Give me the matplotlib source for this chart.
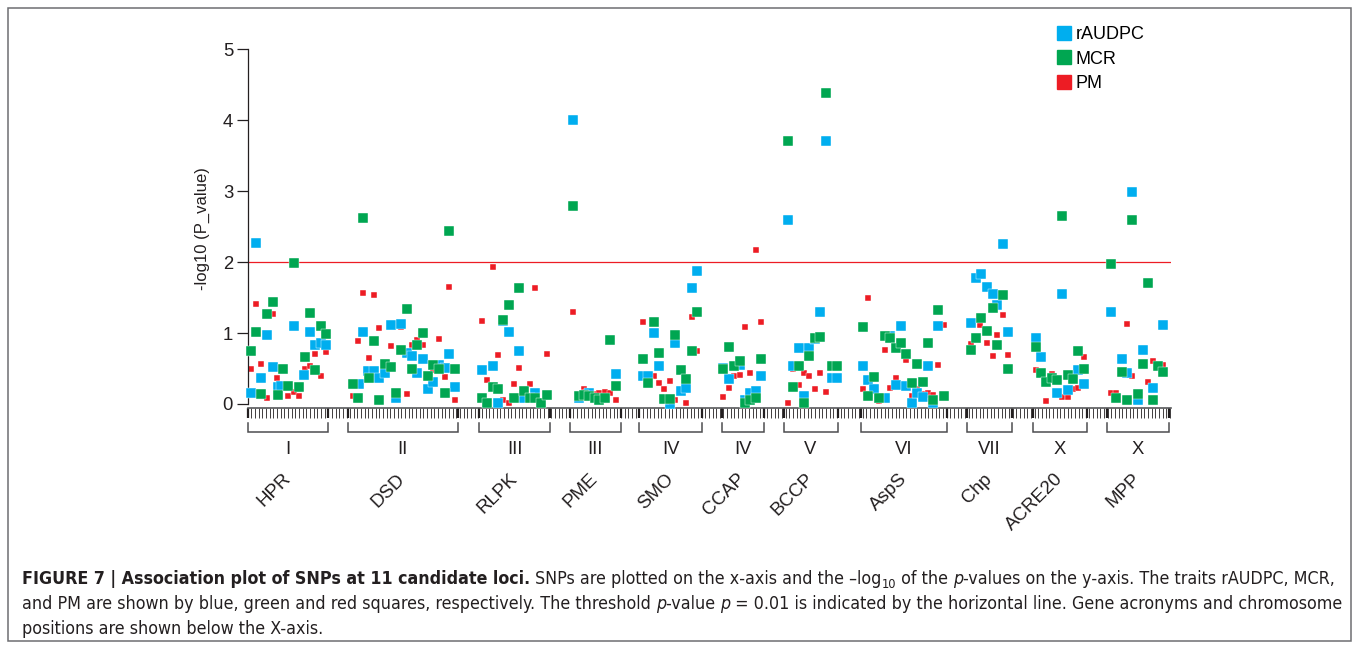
import numpy as np
import matplotlib
matplotlib.use("Agg")
import matplotlib.pyplot as plt
from matplotlib.lines import Line2D
from matplotlib.patches import Rectangle
from matplotlib.transforms import IdentityTransform
from matplotlib import font_manager

plt.rcParams['font.family'] = ['Liberation Sans', 'DejaVu Sans']

# loci along the x axis (positions in SNP ticks)
loci = ['HPR', 'DSD', 'RLPK', 'PME', 'SMO', 'CCAP', 'BCCP', 'AspS', 'Chp', 'ACRE20', 'MPP']
chroms = ['I', 'II', 'III', 'III', 'IV', 'IV', 'V', 'VI', 'VII', 'X', 'X']
loc_start = [0, 27.3, 63.1, 88.1, 107.0, 129.5, 146.4, 167.6, 196.4, 214.6, 234.9]
loc_end = [22.0, 57.4, 82.7, 101.9, 124.2, 141.1, 161.2, 191.1, 208.8, 229.4, 251.6]
n_ticks = 252

# (SNP position, -log10 p) per trait
raudpc = [
    (0.8, 0.16), (2.3, 2.27), (3.7, 0.36), (5.4, 0.97), (6.8, 0.52), (8.4, 0.24), (9.0, 0.25), (12.6, 1.10),
    (15.5, 0.41), (17.0, 1.01), (18.4, 0.83), (19.9, 0.86), (21.4, 0.83),  # HPR
    (30.5, 0.28), (31.6, 1.01), (33.0, 0.46), (34.6, 0.47), (36.0, 0.36), (37.5, 0.43), (39.1, 1.12), (40.5, 0.08),
    (41.9, 1.13), (43.4, 0.72), (44.8, 0.67), (46.3, 0.43), (47.8, 0.64), (49.2, 0.21), (50.7, 0.31), (52.4, 0.55),
    (53.8, 0.51), (55.1, 0.70), (56.6, 0.24),  # DSD
    (63.9, 0.48), (66.9, 0.53), (68.3, 0.01), (69.8, 1.17), (71.3, 1.02), (74.2, 0.75), (75.5, 0.08), (78.6, 0.15),
    (81.7, 0.12),  # RLPK
    (89.0, 4.00), (90.6, 0.08), (91.9, 0.12), (93.3, 0.16), (100.6, 0.42),  # PME
    (107.9, 0.39), (109.5, 0.39), (111.0, 1.00), (112.4, 0.54), (115.4, 0.0), (116.8, 0.86), (118.3, 0.19),
    (119.8, 0.23), (121.3, 1.63), (122.7, 1.88),  # SMO
    (130.0, 0.51), (131.6, 0.35), (134.4, 0.55), (135.9, 0.06), (137.3, 0.16), (138.9, 0.19), (140.3, 0.39),  # CCAP
    (147.7, 2.60), (149.1, 0.54), (150.6, 0.79), (152.1, 0.11), (153.4, 0.79), (155.0, 0.92), (156.4, 1.30),
    (158.0, 3.71), (159.6, 0.36), (160.9, 0.36),  # BCCP
    (168.2, 0.54), (169.5, 0.34), (171.0, 0.21), (174.0, 0.08), (175.4, 0.96), (177.0, 0.27), (178.4, 1.10),
    (179.8, 0.25), (181.4, 0.01), (182.9, 0.16), (184.4, 0.10), (185.9, 0.54), (187.3, 0.01), (188.7, 1.10),  # AspS
    (197.5, 1.14), (199.0, 1.77), (200.4, 1.83), (202.1, 1.65), (203.6, 1.55), (204.8, 1.40), (206.3, 2.26),
    (207.8, 1.01),  # Chp
    (215.3, 0.93), (216.7, 0.66), (221.0, 0.16), (222.6, 1.55), (224.0, 0.20), (226.9, 0.48), (228.5, 0.28),  # ACRE20
    (235.8, 1.30), (238.8, 0.64), (240.2, 0.44), (241.5, 2.99), (243.2, 0.05), (244.5, 0.76), (247.4, 0.22),
    (250.2, 1.11),  # MPP
]
mcr = [
    (0.8, 0.75), (2.3, 1.01), (3.7, 0.14), (5.4, 1.27), (6.8, 1.44), (8.2, 0.13), (9.7, 0.50), (11.1, 0.25),
    (12.6, 1.99), (14.1, 0.24), (15.7, 0.66), (17.0, 1.28), (18.4, 0.48), (19.9, 1.10), (21.4, 0.98),  # HPR
    (28.7, 0.28), (30.2, 0.09), (31.6, 2.62), (33.2, 0.36), (34.6, 0.89), (36.0, 0.06), (37.5, 0.57), (39.1, 0.52),
    (40.5, 0.16), (41.9, 0.76), (43.4, 1.34), (44.8, 0.49), (46.3, 0.83), (47.8, 1.00), (49.2, 0.39), (50.7, 0.55),
    (52.4, 0.49), (53.8, 0.16), (55.1, 2.44), (56.6, 0.49),  # DSD
    (63.9, 0.08), (65.5, 0.01), (66.9, 0.24), (68.3, 0.21), (69.8, 1.19), (71.3, 1.39), (72.8, 0.09), (74.2, 1.64),
    (75.5, 0.19), (77.1, 0.09), (78.6, 0.08), (80.1, 0.01), (81.7, 0.13),  # RLPK
    (89.0, 2.79), (90.6, 0.11), (91.9, 0.13), (93.3, 0.11), (94.8, 0.09), (96.1, 0.06), (97.6, 0.08), (99.1, 0.90),
    (100.6, 0.25),  # PME
    (107.9, 0.63), (109.5, 0.29), (111.0, 1.15), (112.4, 0.72), (113.8, 0.07), (115.4, 0.07), (116.8, 0.97),
    (118.3, 0.48), (119.8, 0.35), (121.3, 0.74), (122.7, 1.29),  # SMO
    (130.0, 0.49), (131.6, 0.81), (133.0, 0.54), (134.4, 0.60), (135.9, 0.02), (137.3, 0.06), (138.9, 0.08),
    (140.3, 0.63),  # CCAP
    (147.7, 3.71), (149.1, 0.24), (150.6, 0.54), (152.1, 0.01), (153.4, 0.67), (155.0, 0.93), (156.4, 0.95),
    (158.0, 4.39), (159.6, 0.53), (160.9, 0.53),  # BCCP
    (168.2, 1.09), (169.5, 0.11), (171.0, 0.38), (172.5, 0.08), (174.0, 0.96), (175.4, 0.93), (177.0, 0.79),
    (178.4, 0.86), (179.8, 0.71), (181.4, 0.30), (182.9, 0.56), (184.4, 0.31), (185.9, 0.86), (187.3, 0.05),
    (188.7, 1.32), (190.2, 0.11),  # AspS
    (197.5, 0.76), (199.0, 0.93), (200.4, 1.21), (202.1, 1.03), (203.6, 1.35), (204.8, 0.83), (206.3, 1.54),
    (207.8, 0.50),  # Chp
    (215.3, 0.80), (216.7, 0.44), (218.1, 0.31), (219.7, 0.36), (221.0, 0.34), (222.6, 2.65), (224.0, 0.41),
    (225.4, 0.35), (226.9, 0.74), (228.5, 0.49),  # ACRE20
    (235.8, 1.97), (237.2, 0.09), (238.8, 0.45), (240.2, 0.06), (241.5, 2.60), (243.2, 0.14), (244.5, 0.57),
    (246.1, 1.70), (247.4, 0.05), (248.8, 0.53), (250.2, 0.45),  # MPP
]
pm = [
    (0.8, 0.49), (2.3, 1.41), (3.7, 0.57), (5.4, 0.08), (6.8, 1.27), (8.0, 0.36), (11.1, 0.11), (12.6, 0.17),
    (14.1, 0.11), (15.7, 0.49), (17.0, 0.53), (18.4, 0.71), (19.9, 0.39), (21.4, 0.73),  # HPR
    (28.7, 0.11), (30.2, 0.89), (31.6, 1.57), (33.2, 0.65), (34.6, 1.54), (36.0, 1.07), (39.1, 0.82), (41.9, 1.09),
    (43.4, 0.14), (44.8, 0.83), (46.3, 0.90), (47.8, 0.83), (49.2, 0.36), (50.7, 0.48), (52.4, 0.91), (53.8, 0.38),
    (55.1, 1.65), (56.6, 0.06),  # DSD
    (63.9, 1.17), (65.5, 0.34), (66.9, 1.93), (68.3, 0.69), (69.8, 0.06), (71.3, 0.01), (72.8, 0.28), (74.2, 0.51),
    (75.5, 0.07), (77.1, 0.28), (78.6, 1.63), (81.7, 0.71),  # RLPK
    (89.0, 1.30), (90.6, 0.07), (91.9, 0.21), (94.8, 0.14), (96.1, 0.15), (97.6, 0.17), (99.1, 0.15),
    (100.6, 0.06),  # PME
    (107.9, 1.16), (111.0, 0.39), (112.4, 0.29), (113.8, 0.21), (115.4, 0.32), (116.8, 0.05), (118.3, 0.51),
    (119.8, 0.01), (121.3, 1.23), (122.7, 0.75),  # SMO
    (130.0, 0.10), (131.6, 0.22), (133.0, 0.39), (134.4, 0.41), (135.9, 1.09), (137.3, 0.44), (138.9, 2.17),
    (140.3, 1.16),  # CCAP
    (147.7, 0.01), (149.1, 0.49), (150.6, 0.27), (152.1, 0.44), (153.4, 0.39), (155.0, 0.21), (156.4, 0.44),
    (158.0, 0.17), (159.6, 0.34),  # BCCP
    (168.2, 0.21), (169.5, 1.50), (172.5, 0.04), (174.0, 0.76), (175.4, 0.22), (177.0, 0.36), (178.4, 1.07),
    (179.8, 0.62), (181.4, 0.11), (182.9, 0.21), (184.4, 0.14), (185.9, 0.16), (187.3, 0.13), (188.7, 0.55),
    (190.2, 1.11),  # AspS
    (197.5, 0.85), (200.1, 1.11), (202.1, 0.86), (203.6, 0.67), (204.8, 0.97), (206.3, 1.25), (207.8, 0.69),  # Chp
    (215.3, 0.48), (218.1, 0.04), (219.7, 0.42), (222.6, 0.10), (224.0, 0.10), (225.4, 0.21), (226.9, 0.23),
    (228.5, 0.66),  # ACRE20
    (235.8, 0.16), (237.2, 0.15), (240.2, 1.13), (241.5, 0.39), (246.1, 0.31), (247.4, 0.61), (250.2, 0.55),  # MPP
]
threshold = 2.0

BLUE = '#00aeef'
GREEN = '#00a651'
RED = '#ed1c24'
INK = '#231f20'

W, H = 1358, 648
fig = plt.figure(figsize=(W / 100, H / 100), dpi=100)
fig.patch.set_facecolor('white')

# axes placed in pixels: y=0 at 404px, y=5 at 49px, SNP ticks 3.66px apart
ax = fig.add_axes([247.7 / W, 1 - 408.25 / H, 923.4 / W, (408.25 - 49.3) / H])
ax.set_xlim(0, 252.3)
ax.set_ylim(-0.06, 5.0)

for pts, col, s, z in [(pm, RED, 25, 2), (raudpc, BLUE, 42, 3), (mcr, GREEN, 42, 4)]:
    xy = np.array(pts)
    ax.scatter(xy[:, 0], xy[:, 1], marker='s', s=s, color=col, edgecolors='white',
               linewidths=0.3, zorder=z, clip_on=False)

ax.axhline(threshold, color=RED, lw=0.9, zorder=1)

for side in ['top', 'right']:
    ax.spines[side].set_visible(False)
ax.spines['left'].set_bounds(0, 5)
ax.spines['left'].set_color(INK)
ax.spines['bottom'].set_color('#58595b')
ax.spines['left'].set_linewidth(0.9)
ax.spines['bottom'].set_linewidth(1.2)

ax.set_yticks(range(6))
ax.tick_params(axis='y', length=8, width=0.9, pad=2.5, labelsize=13.3, color=INK, labelcolor=INK)

ax.set_xticks(sorted(loc_start + loc_end))
ax.set_xticklabels([])
ax.set_xticks(np.arange(0, n_ticks + 1), minor=True)
ax.tick_params(axis='x', which='major', length=7.2, width=1.6, color=INK)
ax.tick_params(axis='x', which='minor', length=7.2, width=0.6, color=INK)

ax.set_ylabel('-log10 (P_value)', fontsize=12, color=INK)
ax.yaxis.set_label_coords(-0.041, 0.5)

# brackets, chromosome numbers and gene names under the axis
b_top, b_bot = -0.268, -0.395
for name, chrom, s, e in zip(loci, chroms, loc_start, loc_end):
    ax.plot([s, s, e, e], [b_top, b_bot, b_bot, b_top], color='#4d4d4f', lw=1.1,
            clip_on=False, solid_joinstyle='miter')
    mid = (s + e) / 2
    ax.text(mid, -0.64, chrom, ha='center', va='center', fontsize=13.3, color=INK, clip_on=False)
    ax.text(mid, -1.02, name, ha='right', va='center', rotation=45, rotation_mode='anchor',
            fontsize=13.5, color=INK, clip_on=False)

handles = [Line2D([], [], ls='', marker='s', markersize=10, color=c) for c in (BLUE, GREEN, RED)]
fig.legend(handles, ['rAUDPC', 'MCR', 'PM'], loc='upper left', bbox_to_anchor=(1057 / W, 1 - 26 / H),
           frameon=False, fontsize=13, handlelength=0.8, handletextpad=0.25, borderpad=0,
           borderaxespad=0, labelspacing=0.42)

# frame around the figure
fig.patches.append(Rectangle((7.5 / W, 1 - 640.5 / H), 1343 / W, 632.5 / H, transform=fig.transFigure,
                             fill=False, edgecolor='#6d6e71', lw=1.1))

# caption with mixed styles, in a narrow face if one is installed
names = {f.name for f in font_manager.fontManager.ttflist}
cap_font = 'Liberation Sans Narrow' if 'Liberation Sans Narrow' in names else 'DejaVu Sans'
renderer = fig.canvas.get_renderer()


def run_style(style, size):
    kw = dict(family=cap_font, fontsize=size, color=INK, fontstretch='condensed')
    if style == 'b':
        kw['fontweight'] = 'bold'
    elif style == 'i':
        kw['fontstyle'] = 'italic'
    elif style == 'sub':
        kw['fontsize'] = size * 0.72
    return kw


def advance(txt, kw):
    t1 = fig.text(0, 0, 'x' + txt + 'x', **kw)
    t2 = fig.text(0, 0, 'xx', **kw)
    w = t1.get_window_extent(renderer).width - t2.get_window_extent(renderer).width
    t1.remove()
    t2.remove()
    return w


caption = [
    [('FIGURE 7 | Association plot of SNPs at 11 candidate loci.', 'b'),
     (' SNPs are plotted on the x-axis and the \u2013log', ''), ('10', 'sub'), (' of the ', ''), ('p', 'i'),
     ('-values on the y-axis. The traits rAUDPC, MCR,', '')],
    [('and PM are shown by blue, green and red squares, respectively. The threshold ', ''), ('p', 'i'),
     ('-value ', ''), ('p', 'i'), (' = 0.01 is indicated by the horizontal line. Gene acronyms and chromosome', '')],
    [('positions are shown below the X-axis.', '')],
]
line_base = [584, 609, 634]

width10 = sum(advance(t, run_style(st, 10)) for t, st in caption[0])
cap_size = 10 * 1306 / width10

for runs, yb in zip(caption, line_base):
    x = 22.0
    for txt, st in runs:
        kw = run_style(st, cap_size)
        dy = -3.5 if st == 'sub' else 0
        fig.text(x, H - yb + dy, txt, transform=IdentityTransform(), va='baseline', **kw)
        x += advance(txt, kw)

fig.savefig('out.png', dpi=100, facecolor='white')
